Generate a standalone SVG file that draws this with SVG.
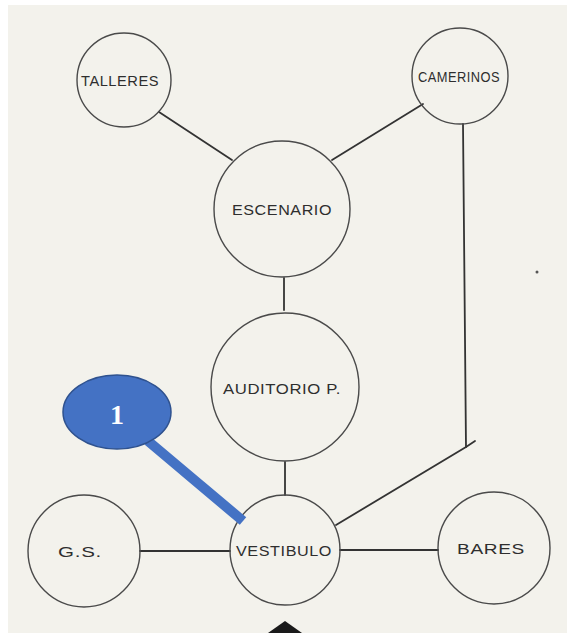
<svg xmlns="http://www.w3.org/2000/svg" width="569" height="633" viewBox="0 0 569 633">
<style>
.node circle{fill:none;stroke:#4a4a4a;stroke-width:1.4}
.node text{font-family:"Liberation Sans",Arial,sans-serif;font-size:14px;fill:#2e2e2e;text-anchor:middle;letter-spacing:0.5px}
.conn line,.conn polyline{stroke:#333;stroke-width:1.8;fill:none;stroke-linecap:round}
</style>
<rect x="0" y="0" width="569" height="633" fill="#ffffff"/>
<rect x="8" y="5" width="559" height="628" fill="#f3f2ec"/>
<g id="connectors" class="conn">
<line x1="159" y1="112" x2="232" y2="160"/>
<line x1="423" y1="104" x2="332" y2="160"/>
<line x1="284" y1="278" x2="284" y2="310"/>
<line x1="285" y1="462" x2="285" y2="495"/>
<polyline points="463,124 466,447 336,525"/>
<line x1="466" y1="447" x2="475" y2="441" stroke-width="1"/>
<line x1="140" y1="551" x2="230" y2="551"/>
<line x1="340" y1="550" x2="438" y2="550"/>
</g>
<g id="talleres" class="node"><circle cx="124" cy="80" r="47"/><text x="120" y="86" textLength="78" lengthAdjust="spacingAndGlyphs">TALLERES</text></g>
<g id="camerinos" class="node"><circle cx="460" cy="76" r="48"/><text x="459" y="82" textLength="82" lengthAdjust="spacingAndGlyphs">CAMERINOS</text></g>
<g id="escenario" class="node"><circle cx="282" cy="209" r="68"/><text x="282" y="215" textLength="100" lengthAdjust="spacingAndGlyphs">ESCENARIO</text></g>
<g id="auditorio" class="node"><circle cx="285" cy="387" r="74"/><text x="282" y="394" textLength="118" lengthAdjust="spacingAndGlyphs">AUDITORIO P.</text></g>
<g id="vestibulo" class="node"><circle cx="285" cy="550" r="55"/><text x="284" y="556" textLength="96" lengthAdjust="spacingAndGlyphs">VESTIBULO</text></g>
<g id="gs" class="node"><circle cx="84" cy="551" r="56"/><text x="80" y="557" textLength="44" lengthAdjust="spacingAndGlyphs">G.S.</text></g>
<g id="bares" class="node"><circle cx="494" cy="548" r="56"/><text x="491" y="554" textLength="68" lengthAdjust="spacingAndGlyphs">BARES</text></g>
<path d="M285,621 L302,633 L268,633 Z" fill="#1a1a1a"/>
<circle cx="537" cy="272" r="1.5" fill="#555"/>
<g id="callout">
<line x1="148" y1="441" x2="243" y2="521" stroke="#4472C4" stroke-width="10"/>
<ellipse cx="117" cy="412" rx="54" ry="37" fill="#4472C4" stroke="#2F528F" stroke-width="1.5"/>
<text x="117" y="424" font-family="Liberation Serif,'Times New Roman',serif" font-size="28" font-weight="bold" fill="#ffffff" text-anchor="middle">1</text>
</g>
</svg>
